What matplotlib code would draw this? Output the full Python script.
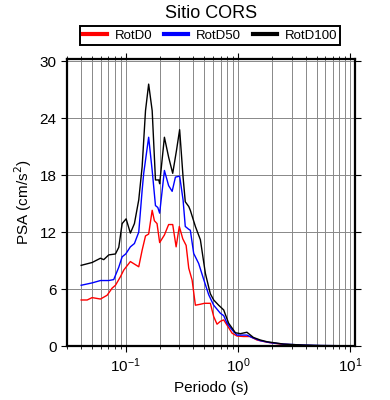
import numpy as np
import matplotlib
matplotlib.use("Agg")
import matplotlib.pyplot as plt
from matplotlib.ticker import LogLocator, NullFormatter, MultipleLocator

plt.rcParams['font.family'] = ['Liberation Sans', 'DejaVu Sans']

# periodos (s) y PSA (cm/s2)
periodo_d0 = [0.0401, 0.0454, 0.0502, 0.0596, 0.0683, 0.0757, 0.081, 0.0897, 0.096, 0.110,
              0.1306, 0.140, 0.150, 0.160, 0.172, 0.180, 0.190, 0.2005, 0.221, 0.241,
              0.262, 0.281, 0.300, 0.322, 0.345, 0.364, 0.390, 0.417, 0.462, 0.502,
              0.548, 0.567, 0.607, 0.650, 0.696, 0.745, 0.798, 0.885, 0.980, 1.12,
              1.28, 1.476, 1.81, 2.38, 3.81, 5.4, 10.0]
rotd0 = [4.85, 4.85, 5.1, 4.95, 5.35, 6.1, 6.4, 7.3, 8.0, 8.9,
         8.35, 10.1, 11.6, 11.8, 14.3, 13.2, 12.9, 10.9, 11.7, 12.8,
         12.8, 10.45, 12.6, 11.3, 10.6, 8.2, 6.95, 4.3, 4.4, 4.5,
         4.5, 4.5, 3.1, 2.3, 2.6, 2.75, 2.2, 1.35, 1.05, 1.0,
         1.0, 0.63, 0.4, 0.2, 0.05, 0.02, 0.01]

periodo_d50 = [0.0401, 0.0502, 0.0596, 0.0706, 0.0782, 0.0867, 0.0929, 0.100, 0.110, 0.1195,
               0.1306, 0.140, 0.1446, 0.160, 0.172, 0.184, 0.193, 0.2005, 0.221, 0.241,
               0.259, 0.277, 0.302, 0.324, 0.339, 0.364, 0.376, 0.403, 0.446, 0.495,
               0.548, 0.607, 0.696, 0.745, 0.798, 0.885, 0.980, 1.086, 1.20, 1.33,
               1.58, 1.94, 2.55, 3.8, 5.4, 10.0]
rotd50 = [6.4, 6.65, 6.9, 6.9, 7.0, 8.3, 9.4, 9.7, 10.45, 10.8,
          12.0, 16.4, 18.2, 22.0, 18.5, 14.8, 14.6, 14.0, 18.5, 16.9,
          16.3, 17.8, 17.9, 15.4, 12.6, 12.3, 12.2, 9.75, 8.7, 7.0,
          5.4, 4.3, 3.45, 3.2, 2.4, 1.7, 1.15, 1.15, 1.15, 0.9,
          0.56, 0.35, 0.2, 0.1, 0.05, 0.02]

periodo_d100 = [0.0401, 0.0502, 0.0596, 0.0637, 0.0706, 0.081, 0.0867, 0.0929, 0.1008, 0.110,
                0.1195, 0.1306, 0.140, 0.150, 0.160, 0.172, 0.184, 0.197, 0.2005, 0.221,
                0.241, 0.262, 0.283, 0.302, 0.324, 0.339, 0.364, 0.376, 0.417, 0.462,
                0.512, 0.548, 0.567, 0.607, 0.672, 0.745, 0.825, 0.947, 1.05, 1.20,
                1.37, 1.58, 1.81, 2.55, 3.8, 5.4, 10.0]
rotd100 = [8.5, 8.8, 9.25, 9.1, 9.6, 9.7, 10.4, 12.9, 13.4, 11.9,
           12.9, 15.4, 18.9, 24.8, 27.6, 24.8, 17.5, 17.5, 17.1, 22.0,
           19.9, 18.2, 20.6, 22.8, 17.8, 15.2, 14.7, 14.3, 12.6, 11.2,
           7.65, 6.2, 5.5, 4.85, 4.3, 3.8, 2.4, 1.4, 1.3, 1.45,
           0.9, 0.63, 0.45, 0.2, 0.1, 0.05, 0.02]

series = ['RotD0', 'RotD50', 'RotD100']
colores = ['red', 'blue', 'black']

fig = plt.figure(figsize=(3.9, 4.0), dpi=100)
ax = fig.add_axes([67/390, 54/400, 288/390, 287.5/400])

ax.plot(periodo_d0, rotd0, color=colores[0], lw=1.0, label=series[0])
ax.plot(periodo_d50, rotd50, color=colores[1], lw=1.0, label=series[1])
ax.plot(periodo_d100, rotd100, color=colores[2], lw=1.0, label=series[2])

ax.set_xscale('log')
ax.set_xlim(0.03, 11)
ax.set_ylim(0, 30.3)
ax.xaxis.set_major_locator(LogLocator(base=10, numticks=10))
ax.xaxis.set_minor_locator(LogLocator(base=10, subs=np.arange(2, 10), numticks=20))
ax.xaxis.set_minor_formatter(NullFormatter())
ax.yaxis.set_major_locator(MultipleLocator(6))

ax.grid(True, which='both', axis='x', color='#888888', lw=0.7)
ax.grid(True, which='major', axis='y', color='#888888', lw=0.7)
ax.set_axisbelow(True)

ax.tick_params(which='both', direction='out', top=True, right=True,
               labeltop=False, labelright=False, labelsize=11, color='black')
ax.tick_params(which='major', length=4, width=0.8)
ax.tick_params(which='minor', length=2, width=0.6)
for s in ax.spines.values():
    s.set_linewidth(1.6)

ax.set_xlabel('Periodo (s)', fontsize=11)
ax.set_ylabel('PSA (cm/s$^2$)', fontsize=11)

fig.text(211/390, 1 - 14/400, 'Sitio CORS', ha='center', va='center', fontsize=13)

leg = fig.legend(loc='center', ncol=3, mode='expand',
                 bbox_to_anchor=(73/390, 1 - 43/400, 274/390, 15/400),
                 fontsize=9.5, handlelength=1.8, handletextpad=0.6,
                 borderpad=0.25, columnspacing=1.5, fancybox=False,
                 edgecolor='black', framealpha=1)
leg.get_frame().set_linewidth(1.4)
for h in leg.get_lines():
    h.set_linewidth(3)

fig.savefig('out.png', dpi=100)
